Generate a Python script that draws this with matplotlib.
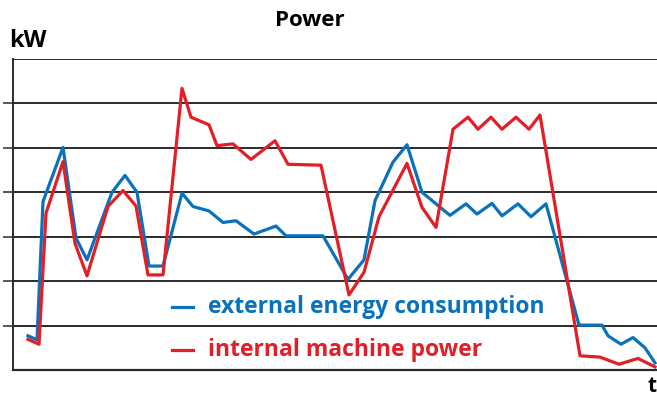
import matplotlib.pyplot as plt

# time axis (arbitrary units) and power in kW (grid step = 1)
t_ext = [15, 24, 30, 50, 63, 74, 99, 112, 124, 136, 150, 169, 180, 196, 210, 223, 241, 263, 273, 310,
         335, 351, 362, 380, 394, 409, 437, 453, 464, 479, 489, 505, 518, 533, 566, 589, 595, 608, 620, 632, 642]
p_ext = [0.77, 0.68, 3.79, 5.01, 2.97, 2.48, 4.0, 4.38, 4.0, 2.34, 2.34, 3.98, 3.68, 3.58, 3.32, 3.36,
         3.06, 3.24, 3.02, 3.02, 2.04, 2.48, 3.81, 4.68, 5.07, 4.0, 3.48, 3.74, 3.51, 3.75, 3.47, 3.74,
         3.45, 3.74, 1.01, 1.01, 0.77, 0.58, 0.73, 0.50, 0.16]

t_int = [15, 26, 33, 50, 62, 74, 95, 110, 123, 135, 150, 169, 178, 196, 204, 220, 238, 262, 275, 308,
         336, 351, 366, 394, 409, 423, 440, 455, 465, 478, 489, 503, 516, 527, 567, 587, 606, 625, 642]
p_int = [0.69, 0.58, 3.53, 4.69, 2.85, 2.12, 3.68, 4.04, 3.69, 2.14, 2.14, 6.34, 5.69, 5.52, 5.05, 5.09,
         4.74, 5.16, 4.63, 4.61, 1.69, 2.2, 3.45, 4.65, 3.66, 3.21, 5.42, 5.69, 5.42, 5.69, 5.42, 5.69,
         5.42, 5.74, 0.32, 0.29, 0.13, 0.26, 0.07]

labels = ['external energy consumption', 'internal machine power']
colors = ['#0a72bd', '#e31e26']

plt.rcParams['font.family'] = ['Open Sans', 'DejaVu Sans']

fig = plt.figure(figsize=(6.57, 4.01), dpi=100)
ax = fig.add_axes([13 / 657, 31 / 401, 644 / 657, 311 / 401])

for y in range(1, 8):
    ax.axhline(y, color='#2b2b2b', lw=1.4, zorder=1)

ax.plot(t_ext, p_ext, color=colors[0], lw=2.3, zorder=3)
ax.plot(t_int, p_int, color=colors[1], lw=2.3, zorder=3)

ax.set_xlim(0, 644)
ax.set_ylim(0, 7)
ax.set_xticks([])
ax.set_yticks(range(1, 7))
ax.set_yticklabels([])
ax.tick_params(axis='y', length=7.5, width=1.1, color='#2b2b2b')
for s in ['top', 'right']:
    ax.spines[s].set_visible(False)
ax.spines['left'].set_linewidth(1.4)
ax.spines['bottom'].set_linewidth(1.6)
ax.spines['left'].set_color('#2b2b2b')
ax.spines['bottom'].set_color('#2b2b2b')

# legend drawn as coloured text
for lab, c, yy in zip(labels, colors, [1.42, 0.45]):
    ax.plot([159, 180], [yy, yy], color=c, lw=2.3, zorder=4)
    ax.text(195, yy, lab, color=c, fontsize=16.5, fontweight='bold', va='center', ha='left', zorder=4)

fig.text(310 / 657, 1 - 20 / 401, 'Power', ha='center', va='center', fontsize=16, fontweight='bold')
fig.text(9 / 657, 1 - 41 / 401, 'kW', ha='left', va='center', fontsize=17, fontweight='bold')
fig.text(652 / 657, 1 - 386 / 401, 't', ha='center', va='center', fontsize=15, fontweight='bold')

fig.savefig('out.png', dpi=100)
